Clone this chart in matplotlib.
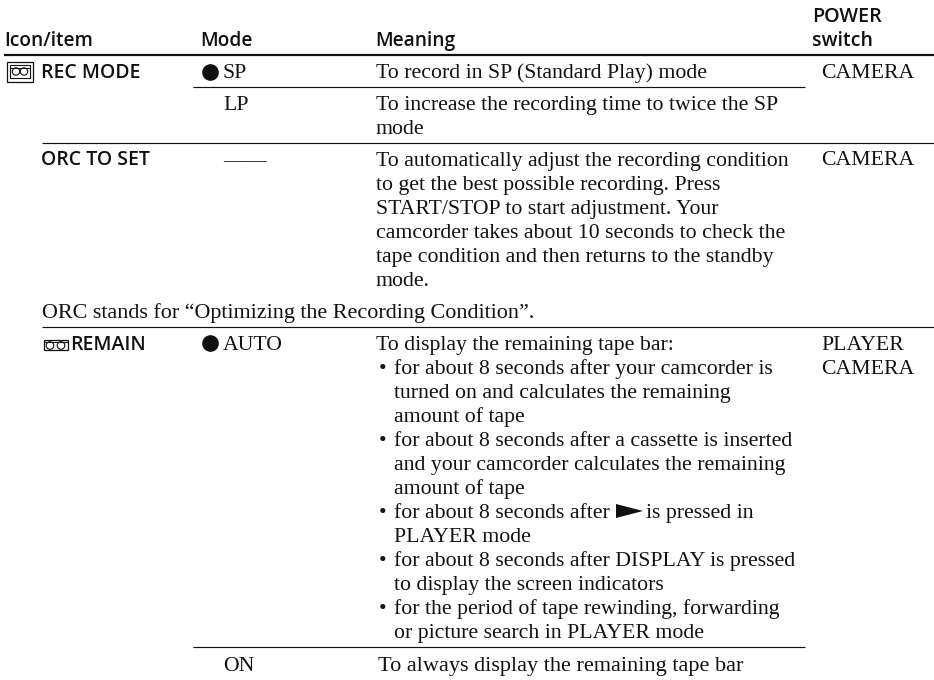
import matplotlib
matplotlib.use("Agg")
import matplotlib.pyplot as plt
from matplotlib.patches import Polygon, Circle, Rectangle

SERIF = "Liberation Serif"
SANS = "Open Sans"
INK = "#111111"

headers = ["Icon/item", "Mode", "Meaning"]
power_head = ["POWER", "switch"]
items = ["REC MODE", "ORC TO SET", "REMAIN"]
modes = ["SP", "LP", "——", "AUTO", "ON"]
power = ["CAMERA", "CAMERA", "PLAYER", "CAMERA"]
note = "ORC stands for “Optimizing the Recording Condition”."
meaning_sp = ["To record in SP (Standard Play) mode"]
meaning_lp = ["To increase the recording time to twice the SP", "mode"]
meaning_orc = [
    "To automatically adjust the recording condition",
    "to get the best possible recording. Press",
    "START/STOP to start adjustment. Your",
    "camcorder takes about 10 seconds to check the",
    "tape condition and then returns to the standby",
    "mode.",
]
meaning_auto_head = "To display the remaining tape bar:"
meaning_auto = [
    ("•", "for about 8 seconds after your camcorder is"),
    ("", "turned on and calculates the remaining"),
    ("", "amount of tape"),
    ("•", "for about 8 seconds after a cassette is inserted"),
    ("", "and your camcorder calculates the remaining"),
    ("", "amount of tape"),
    ("•", "for about 8 seconds after"),
    ("", "PLAYER mode"),
    ("•", "for about 8 seconds after DISPLAY is pressed"),
    ("", "to display the screen indicators"),
    ("•", "for the period of tape rewinding, forwarding"),
    ("", "or picture search in PLAYER mode"),
]
meaning_play_tail = "is pressed in"
meaning_on = "To always display the remaining tape bar"

fig = plt.figure(figsize=(9.34, 6.80), dpi=100, facecolor="white")
ax = fig.add_axes([0, 0, 1, 1])
ax.set_xlim(0, 934)
ax.set_ylim(680, 0)
ax.axis("off")


def serif(x, y, s, size=15.7):
    ax.text(x, y, s, family=SERIF, fontsize=size, color=INK, va="baseline", ha="left")


def sans(x, y, s, size=14.0):
    ax.text(x, y, s, family=SANS, fontsize=size, fontweight="semibold",
            color=INK, va="baseline", ha="left")


def block(x, y, lines, step=24.0):
    for i, s in enumerate(lines):
        serif(x, y + i * step, s)


def rule(x0, x1, y, lw=0.85):
    ax.plot([x0, x1], [y, y], color=INK, lw=lw, solid_capstyle="butt")


# header
for x, s in zip([4, 200, 375], headers):
    sans(x, 46, s, 13.8)
sans(812, 22, power_head[0], 14.2)
sans(812, 46, power_head[1], 14.0)

# rules
rule(4, 934, 55, 1.6)
rule(193, 805, 87)
rule(42, 934, 143)
rule(42, 934, 326.5)
rule(193, 805, 647)

# items
sans(41, 78, items[0])
sans(41, 165, items[1])
sans(70, 350, items[2])

# modes
ax.plot([209.5], [71.5], "o", color=INK, ms=12, mew=0)
serif(223, 78, modes[0])
serif(223, 110, modes[1])
serif(223, 166, modes[2])
ax.plot([209.5], [343], "o", color=INK, ms=12, mew=0)
serif(223, 350, modes[3])
serif(223, 671, modes[4])

# meanings
block(376, 78, meaning_sp)
block(376, 110, meaning_lp)
block(376, 166, meaning_orc)
serif(376, 350, meaning_auto_head)
for i, (b, s) in enumerate(meaning_auto):
    y = 374 + i * 24
    if b:
        serif(379, y, b)
    serif(394, y, s)
serif(646, 518, meaning_play_tail)
ax.add_patch(Polygon([(616, 504), (643, 511), (616, 518)], closed=True, fc=INK, ec="none"))
serif(378, 671, meaning_on, 16.0)
serif(42, 318, note, 15.9)

# power
for (x, y), s in zip([(821, 78), (821, 165), (821, 350), (821, 374)], power):
    serif(x, y, s)

# cassette icons
ax.add_patch(Rectangle((6.5, 61.5), 26, 20, fill=False, ec=INK, lw=0.9))
ax.add_patch(Rectangle((9.5, 64.5), 20.5, 13.5, fill=False, ec=INK, lw=0.8))
rule(9.5, 30, 67.5, 0.7)
for cx in (16, 24):
    ax.add_patch(Circle((cx, 71.5), 3.7, fill=False, ec=INK, lw=0.8))
ax.add_patch(Rectangle((43.5, 339.5), 24.5, 10.5, fill=False, ec=INK, lw=0.9))
rule(43.5, 68, 341.5, 0.8)
for cx in (50, 61):
    ax.add_patch(Circle((cx, 345.5), 3.8, fill=False, ec=INK, lw=0.8))

fig.savefig("out.png", dpi=100)
